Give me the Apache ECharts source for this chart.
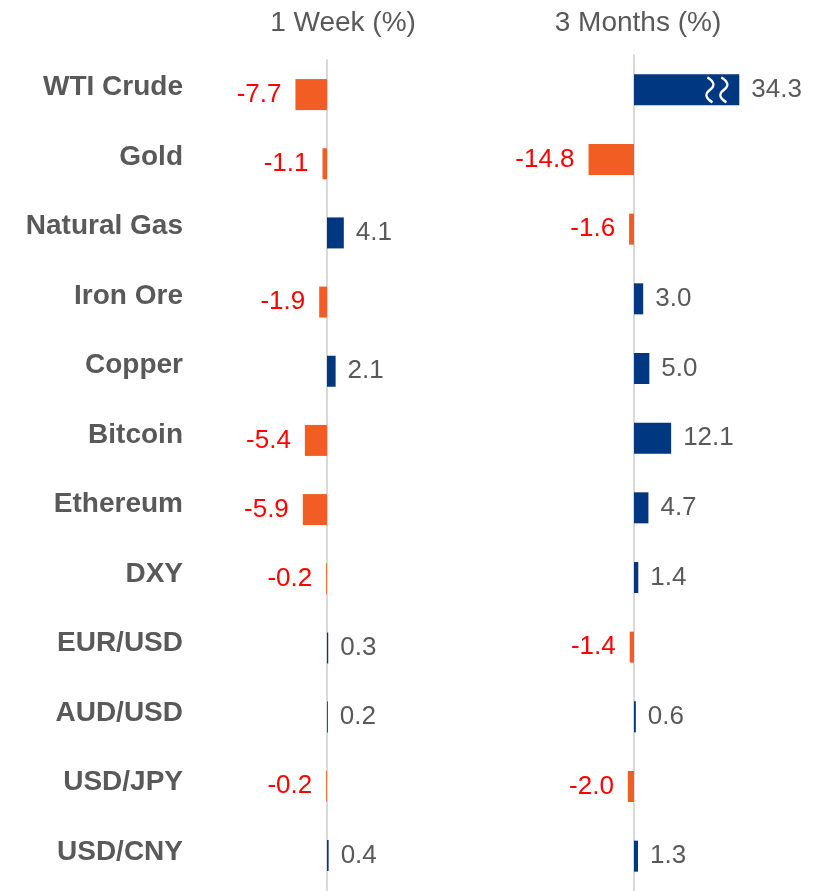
<!DOCTYPE html>
<html>
<head>
<meta charset="utf-8">
<title>Commodities & FX</title>
<script src="https://cdn.jsdelivr.net/npm/echarts@6/dist/echarts.min.js"></script>
<style>
    html, body { margin: 0; padding: 0; background: #fff; }
    #main { width: 823px; height: 891px; }
</style>
</head>
<body>
<div id="main"></div>
<script>
var categories = ['WTI Crude', 'Gold', 'Natural Gas', 'Iron Ore', 'Copper', 'Bitcoin', 'Ethereum', 'DXY', 'EUR/USD', 'AUD/USD', 'USD/JPY', 'USD/CNY'];
var weekValues = [-7.7, -1.1, 4.1, -1.9, 2.1, -5.4, -5.9, -0.2, 0.3, 0.2, -0.2, 0.4];
var monthValues = [34.3, -14.8, -1.6, 3.0, 5.0, 12.1, 4.7, 1.4, -1.4, 0.6, -2.0, 1.3];
var panelTitles = ['1 Week (%)', '3 Months (%)'];

var bootstrap = function () {
    "use strict";

    var FONT = '"Liberation Sans", Arial, sans-serif';
    var POS = '#003781';
    var NEG = '#F15D22';
    var GREY = '#595959';

    var page = {
        init: function () {
            var myChart = echarts.init(document.getElementById('main'));
            myChart.setOption(page.option());
        },
        // 每个数据项按正负决定颜色和标签位置
        items: function (values) {
            return values.map(function (v) {
                return {
                    value: v,
                    itemStyle: { color: v < 0 ? NEG : POS },
                    label: {
                        position: v < 0 ? 'left' : 'right',
                        distance: v < 0 ? 14 : 12,
                        color: v < 0 ? '#FF0000' : GREY
                    }
                };
            });
        },
        barSeries: function (idx, values) {
            return {
                type: 'bar',
                xAxisIndex: idx,
                yAxisIndex: idx,
                barWidth: 31,
                data: page.items(values),
                label: {
                    show: true,
                    fontFamily: FONT,
                    fontSize: 26,
                    formatter: function (p) { return p.value.toFixed(1); }
                },
                animation: false
            };
        },
        option: function () {
            var valueAxis = function (idx, lim) {
                return {
                    type: 'value', gridIndex: idx, min: -lim, max: lim,
                    show: false, splitLine: { show: false }
                };
            };
            var catAxis = function (idx) {
                return {
                    type: 'category', gridIndex: idx, data: categories, inverse: true,
                    axisLine: { show: true, onZero: true, lineStyle: { color: '#D9D9D9', width: 2 } },
                    axisTick: { show: false },
                    axisLabel: { show: false }
                };
            };
            var monthBars = page.barSeries(1, monthValues);
            // 断轴标记
            monthBars.markPoint = {
                silent: true,
                symbol: 'path://M3 0 C9 5 9 9 5 13 C1 17 1 21 7 26 M14 0 C20 5 20 9 16 13 C12 17 12 21 18 26',
                symbolSize: [21, 25],
                itemStyle: { color: 'transparent', borderColor: '#fff', borderWidth: 2.5 },
                label: { show: false },
                data: [{ coord: [27, categories[0]] }]
            };
            return {
                backgroundColor: '#fff',
                textStyle: { fontFamily: FONT },
                graphic: [
                    { type: 'text', x: 343, y: 23, style: { text: panelTitles[0], textAlign: 'center', textVerticalAlign: 'middle', font: '28px ' + FONT, fill: GREY } },
                    { type: 'text', x: 638, y: 23, style: { text: panelTitles[1], textAlign: 'center', textVerticalAlign: 'middle', font: '28px ' + FONT, fill: GREY } }
                ],
                grid: [
                    { left: 245, width: 164, top: 60, height: 830 },
                    { left: 511.2, width: 245.6, top: 55, height: 838 },
                    { left: 183, width: 1, top: 53, height: 834 }
                ],
                xAxis: [valueAxis(0, 20), valueAxis(1, 40), valueAxis(2, 1)],
                yAxis: [
                    catAxis(0),
                    catAxis(1),
                    {
                        type: 'category', gridIndex: 2, data: categories, inverse: true,
                        axisLine: { show: false }, axisTick: { show: false },
                        axisLabel: { margin: 0, fontFamily: FONT, fontSize: 28, fontWeight: 'bold', color: GREY }
                    }
                ],
                series: [page.barSeries(0, weekValues), monthBars]
            };
        }
    };
    page.init();
};
bootstrap();
</script>
</body>
</html>
